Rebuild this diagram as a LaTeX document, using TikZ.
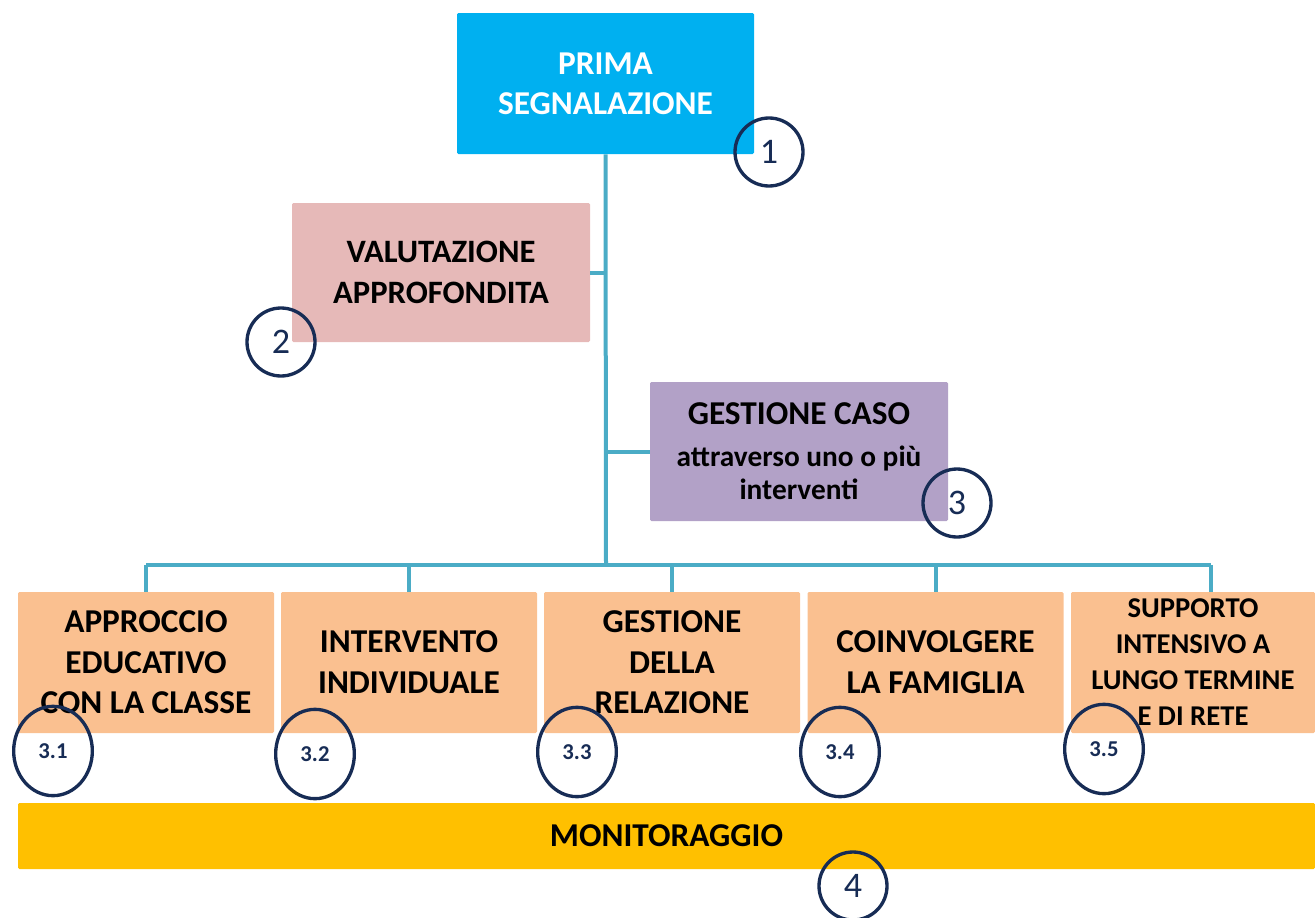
\documentclass[tikz,border=0pt]{standalone}
\usepackage{fontspec}
\setmainfont{Carlito}
\usetikzlibrary{shapes.geometric}
\definecolor{cblue}{HTML}{00B0F0}
\definecolor{cpink}{HTML}{E6B9B8}
\definecolor{cviolet}{HTML}{B2A1C7}
\definecolor{corange}{HTML}{FAC090}
\definecolor{cyellow}{HTML}{FFC000}
\definecolor{cline}{HTML}{4BACC6}
\definecolor{cnavy}{HTML}{172C55}
\begin{document}
\begin{tikzpicture}[x=0.75pt,y=-0.75pt,
  box/.style={rectangle, rounded corners=1pt, inner sep=0pt, align=center, font=\bfseries},
  conn/.style={draw=cline, line width=3pt},
  num/.style={circle, draw=cnavy, line width=2.5pt, minimum size=51pt, inner sep=0pt, text=cnavy, font=\fontsize{27}{30}\selectfont},
  subnum/.style={ellipse, draw=cnavy, line width=2.5pt, minimum width=59pt, minimum height=67pt, inner sep=0pt, text=cnavy, font=\bfseries\fontsize{17}{20}\selectfont},
  lvl/.style={box, fill=corange, minimum width=192pt, minimum height=105.75pt, font=\bfseries\fontsize{25}{30.5}\selectfont}
]
\useasboundingbox (0,0) rectangle (1315,918);

% top levels
\node[box, fill=cblue, text=white, minimum width=222.75pt, minimum height=105.75pt, font=\bfseries\fontsize{25}{30}\selectfont] (prima) at (605.5,83.5) {PRIMA\\SEGNALAZIONE};
\node[box, fill=cpink, minimum width=223.5pt, minimum height=104.25pt, font=\bfseries\fontsize{24.5}{30.5}\selectfont] (valut) at (441,272.5) {VALUTAZIONE\\APPROFONDITA};
\node[box, fill=cviolet, minimum width=223.5pt, minimum height=104.25pt, font=\bfseries\fontsize{22}{24.75}\selectfont] (gest) at (799,451.5) {{\fontsize{25}{25}\selectfont GESTIONE CASO}\\[7pt]attraverso uno o più\\interventi};

% bottom level
\node[lvl] (b1) at (146,662.5) {APPROCCIO\\EDUCATIVO\\CON LA CLASSE};
\node[lvl] (b2) at (409,662.5) {INTERVENTO\\INDIVIDUALE};
\node[lvl] (b3) at (672,662.5) {GESTIONE\\DELLA\\RELAZIONE};
\node[lvl] (b4) at (935.5,662.5) {COINVOLGERE\\LA FAMIGLIA};
\node[lvl, minimum width=183pt, font=\bfseries\fontsize{21.5}{27}\selectfont] (b5) at (1193,662.5) {SUPPORTO\\INTENSIVO A\\LUNGO TERMINE\\E DI RETE};

\node[box, fill=cyellow, minimum width=972.75pt, minimum height=49.5pt, font=\bfseries\fontsize{25}{30}\selectfont] (mon) at (666.5,836) {MONITORAGGIO};

% connectors
\coordinate (bus) at (606,565);
\coordinate (d5) at (1211,565);
\draw[conn] (prima.south) -- (bus);
\draw[conn] (valut.east) -- (valut.east -| bus);
\draw[conn] (gest.west) -- (gest.west -| bus);
\draw[conn] (b1.north |- bus) -- (d5);
\draw[conn] (b1.north) -- (b1.north |- bus);
\draw[conn] (b2.north) -- (b2.north |- bus);
\draw[conn] (b3.north) -- (b3.north |- bus);
\draw[conn] (b4.north) -- (b4.north |- bus);
\draw[conn] (d5) -- (d5 |- b5.north);

% number circles
\node[num] (n1) at (769,152) {1};
\node[num] (n2) at (281,342) {2};
\node[num] (n3) at (957,503) {3};
\node[num] (n4) at (853,886) {4};
\node[subnum] (n31) at (53,751) {3.1};
\node[subnum] (n32) at (315,754) {3.2};
\node[subnum] (n33) at (577,752) {3.3};
\node[subnum] (n34) at (840,752) {3.4};
\node[subnum] (n35) at (1104,749) {3.5};
\end{tikzpicture}
\end{document}
